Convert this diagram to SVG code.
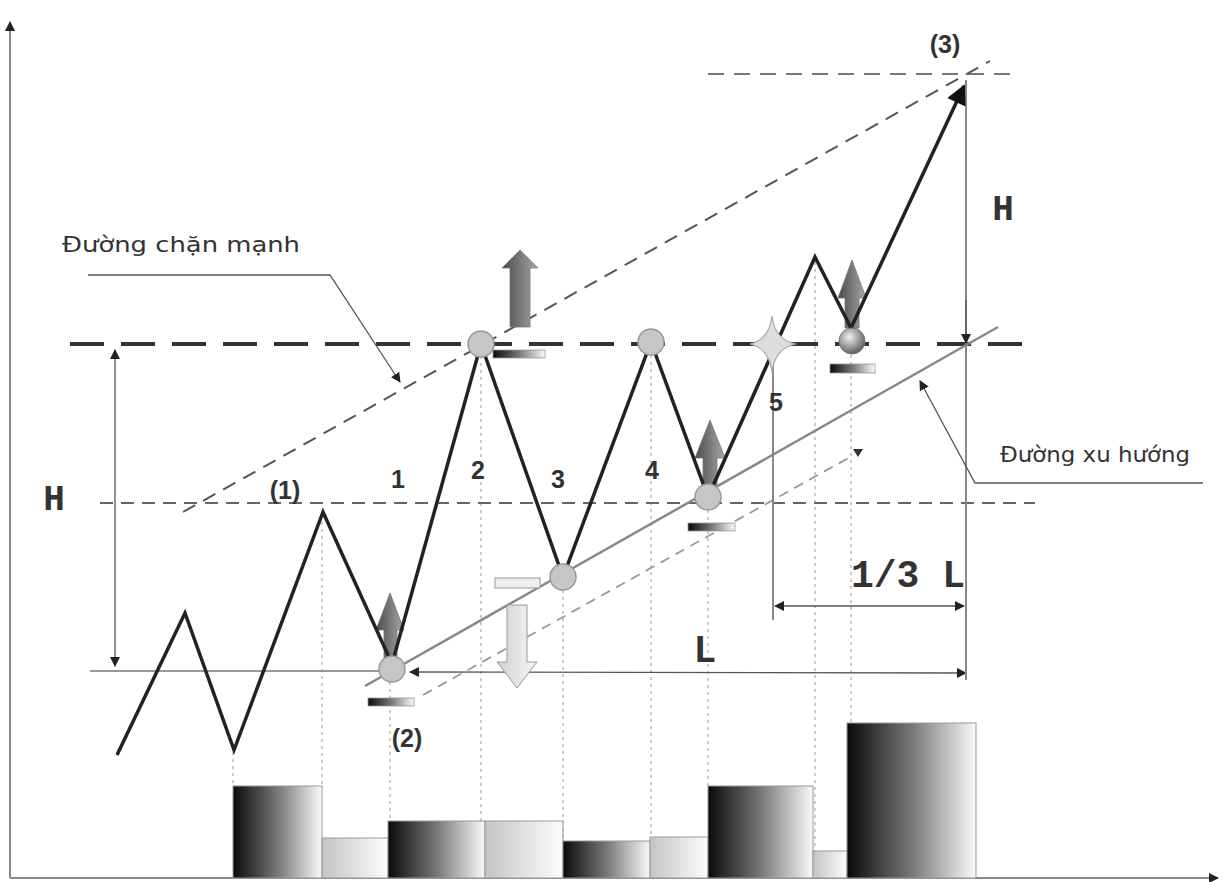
<svg xmlns="http://www.w3.org/2000/svg" width="1223" height="882" viewBox="0 0 1223 882">
<defs>
<linearGradient id="gDark" x1="0" y1="0" x2="1" y2="0"><stop offset="0" stop-color="#0a0a0a"/><stop offset="0.5" stop-color="#777"/><stop offset="1" stop-color="#fafafa"/></linearGradient>
<linearGradient id="gLight" x1="0" y1="0" x2="1" y2="0"><stop offset="0" stop-color="#c4c4c4"/><stop offset="1" stop-color="#fdfdfd"/></linearGradient>
<linearGradient id="gArrow" x1="0" y1="0" x2="1" y2="0"><stop offset="0" stop-color="#4a4a4a"/><stop offset="1" stop-color="#a8a8a8"/></linearGradient>
<linearGradient id="gArrowDown" x1="0" y1="0" x2="1" y2="0"><stop offset="0" stop-color="#d0d0d0"/><stop offset="1" stop-color="#f6f6f6"/></linearGradient>
<radialGradient id="gBall" cx="0.4" cy="0.35" r="0.7"><stop offset="0" stop-color="#f0f0f0"/><stop offset="1" stop-color="#555"/></radialGradient>
<marker id="mHead" viewBox="0 0 10 10" refX="9" refY="5" markerWidth="10" markerHeight="10" markerUnits="userSpaceOnUse" orient="auto-start-reverse"><path d="M0,0 L10,5 L0,10 Z" fill="#222"/></marker>
<marker id="mBig" viewBox="0 0 10 10" refX="9" refY="5" markerWidth="24" markerHeight="20" markerUnits="userSpaceOnUse" orient="auto"><path d="M0,0 L10,5 L0,10 Z" fill="#111"/></marker>
</defs>
<style>
.axis{stroke:#888;stroke-width:2;fill:none}
.dot{stroke:#aaa;stroke-width:1.2;stroke-dasharray:3 4;fill:none}
.bar{stroke:#999;stroke-width:1}
.dark{fill:url(#gDark)}
.light{fill:url(#gLight)}
.price{stroke:#222;stroke-width:3.5;fill:none;stroke-linejoin:miter}
.node{fill:#c6c6c6;stroke:#999;stroke-width:1.5}
.thin{stroke:#555;stroke-width:1.3;fill:none}
.dim{stroke:#888;stroke-width:2;fill:none}
.uparrow{fill:url(#gArrow);stroke:#777;stroke-width:0.8}
.tag{fill:url(#gDark);stroke:#999;stroke-width:0.8}
.lbl{font-family:"Liberation Sans",Arial,sans-serif;font-weight:bold;font-size:25px;fill:#333}
.mono{font-family:"Liberation Mono","Courier New",monospace;font-weight:bold;fill:#333}
.note{font-family:"DejaVu Sans",Verdana,sans-serif;font-size:21px;fill:#333}
</style>

<g id="axes">
<line class="axis" x1="10" y1="878" x2="10" y2="22" marker-end="url(#mHead)"/>
<line class="axis" x1="10" y1="878" x2="1218" y2="878" marker-end="url(#mHead)"/>
</g>

<g id="volume-bars">
<rect class="bar dark" x="233" y="786" width="89" height="92"/>
<rect class="bar light" x="322" y="838" width="66" height="40"/>
<rect class="bar dark" x="388" y="821" width="97" height="57"/>
<rect class="bar light" x="485" y="821" width="78" height="57"/>
<rect class="bar dark" x="563" y="841" width="87" height="37"/>
<rect class="bar light" x="650" y="837" width="58" height="41"/>
<rect class="bar dark" x="708" y="786" width="105" height="92"/>
<rect class="bar light" x="813" y="851" width="34" height="27"/>
<rect class="bar dark" x="847" y="723" width="129" height="155"/>
</g>

<g id="connectors">
<line class="dot" x1="233" y1="752" x2="233" y2="786"/>
<line class="dot" x1="322" y1="515" x2="322" y2="786"/>
<line class="dot" x1="390" y1="682" x2="390" y2="821"/>
<line class="dot" x1="481" y1="356" x2="481" y2="821"/>
<line class="dot" x1="563" y1="590" x2="563" y2="841"/>
<line class="dot" x1="651" y1="355" x2="651" y2="837"/>
<line class="dot" x1="708" y1="510" x2="708" y2="786"/>
<line class="dot" x1="815" y1="262" x2="815" y2="851"/>
<line class="dot" x1="851" y1="355" x2="851" y2="723"/>

<line x1="70" y1="344" x2="1030" y2="344" stroke="#333" stroke-width="4" stroke-dasharray="34 17"/>
<line x1="100" y1="503" x2="1035" y2="503" stroke="#666" stroke-width="2" stroke-dasharray="13 8"/>
<line x1="708" y1="74" x2="1012" y2="74" stroke="#777" stroke-width="2.2" stroke-dasharray="16 10"/>
<line x1="183" y1="512" x2="990" y2="61" stroke="#555" stroke-width="2" stroke-dasharray="14 9"/>
<line x1="423" y1="695" x2="852" y2="456" stroke="#999" stroke-width="1.8" stroke-dasharray="10 7"/>
<path d="M853,449 L863,449 L858,457 Z" fill="#333"/>
<line x1="365" y1="686" x2="998" y2="327" stroke="#888" stroke-width="2.5"/>

<line x1="90" y1="671" x2="405" y2="671" stroke="#777" stroke-width="1.5"/>
<line class="thin" x1="410" y1="672" x2="966" y2="673" marker-start="url(#mHead)" marker-end="url(#mHead)"/>
<line class="thin" x1="115" y1="350" x2="115" y2="666" marker-start="url(#mHead)" marker-end="url(#mHead)"/>
<line class="dim" x1="966" y1="80" x2="966" y2="680"/>
<line class="thin" x1="966" y1="300" x2="966" y2="343" marker-end="url(#mHead)"/>
<line class="dim" x1="773" y1="352" x2="773" y2="620"/>
<line class="thin" x1="775" y1="606" x2="964" y2="606" marker-start="url(#mHead)" marker-end="url(#mHead)"/>

<polyline class="thin" points="88,275 330,275 400,382" stroke="#666" marker-end="url(#mHead)"/>
<polyline class="thin" points="1203,483 975,483 920,381" stroke="#666" marker-end="url(#mHead)"/>
</g>

<g id="signal-arrows">
<path class="uparrow" d="M510,327 L510,268 L502,268 L520,250 L538,268 L530,268 L530,327 Z"/>
<path class="uparrow" d="M384,660 L384,630 L376,630 L390,593 L404,630 L397,630 L397,660 Z"/>
<path class="uparrow" d="M703,487 L703,458 L695,458 L710,420 L725,458 L717,458 L717,487 Z"/>
<path class="uparrow" d="M845,328 L845,298 L838,298 L852,260 L866,298 L859,298 L859,328 Z"/>
<path d="M507,605 L527,605 L527,662 L537,662 L517,688 L497,662 L507,662 Z" fill="url(#gArrowDown)" stroke="#999" stroke-width="1"/>
</g>

<g id="price-line">
<polyline class="price" points="117,755 185,613 234,750 323,512 392,664 481,344 563,577 651,342 708,497 815,257 851,328"/>
<line x1="851" y1="328" x2="964" y2="86" stroke="#222" stroke-width="3.5" marker-end="url(#mBig)"/>
</g>

<g id="node-2">
<circle class="node" cx="392" cy="669" r="13"/>
<rect class="tag" x="368" y="698" width="46" height="8"/>
</g>
<g id="node-peak-2">
<circle class="node" cx="481" cy="344" r="13"/>
<rect class="tag" x="493" y="350" width="52" height="8"/>
</g>
<g id="node-3">
<circle class="node" cx="563" cy="577" r="13"/>
<rect x="495" y="578" width="45" height="10" fill="#eee" stroke="#999" stroke-width="1"/>
</g>
<g id="node-peak-4">
<circle class="node" cx="651" cy="342" r="13"/>
</g>
<g id="node-4">
<circle class="node" cx="708" cy="497" r="13"/>
<rect class="tag" x="688" y="523" width="47" height="8"/>
</g>
<g id="node-5">
<path d="M772,316 Q775,340 796,344 Q775,348 772,372 Q769,348 750,344 Q769,340 772,316 Z" fill="#ddd" stroke="#aaa" stroke-width="1.2"/>
</g>
<g id="node-breakout">
<circle cx="852" cy="341" r="13" fill="url(#gBall)" stroke="#777" stroke-width="1"/>
<rect class="tag" x="830" y="364" width="45" height="9"/>
</g>

<g id="labels">
<text class="note" x="62" y="252" textLength="238" lengthAdjust="spacingAndGlyphs">Đường chặn mạnh</text>
<text class="note" x="1000" y="462" textLength="190" lengthAdjust="spacingAndGlyphs">Đường xu hướng</text>
<text class="lbl" x="285" y="499" text-anchor="middle">(1)</text>
<text class="lbl" x="407" y="747" text-anchor="middle">(2)</text>
<text class="lbl" x="945" y="53" text-anchor="middle">(3)</text>
<text class="lbl" x="398" y="488" text-anchor="middle">1</text>
<text class="lbl" x="478" y="479" text-anchor="middle">2</text>
<text class="lbl" x="558" y="488" text-anchor="middle">3</text>
<text class="lbl" x="652" y="479" text-anchor="middle">4</text>
<text class="lbl" x="776" y="411" text-anchor="middle">5</text>
<text class="mono" x="54" y="510" font-size="36" text-anchor="middle">H</text>
<text class="mono" x="1003" y="220" font-size="36" text-anchor="middle">H</text>
<text class="mono" x="705" y="662" font-size="38" text-anchor="middle">L</text>
<text class="mono" x="908" y="587" font-size="38" text-anchor="middle">1/3 L</text>
</g>
</svg>
